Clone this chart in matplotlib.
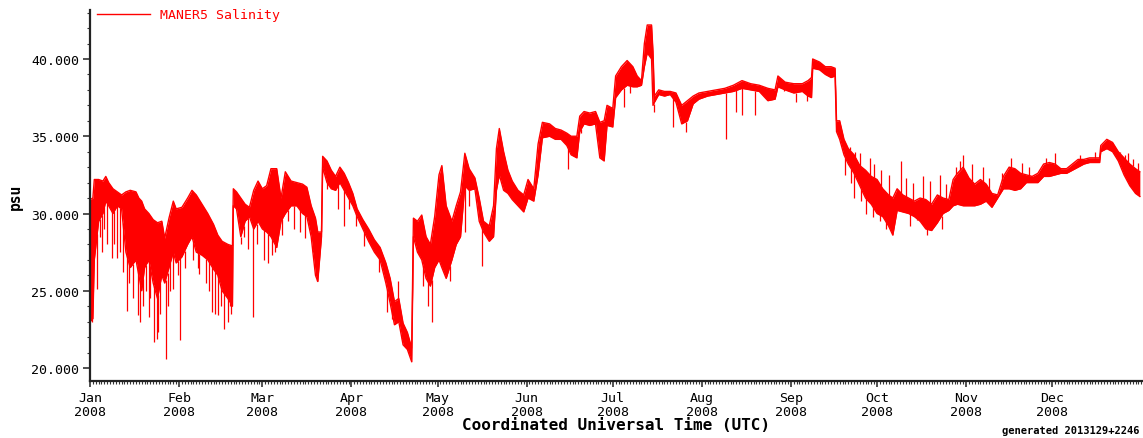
import numpy as np
import pandas as pd
import matplotlib
matplotlib.use("Agg")
import matplotlib.pyplot as plt

# MANER5 salinity (psu), 2008, day-of-year offsets from Jan 1.
# Band = upper/lower envelope of the tidal swing, plus single short excursions.
days = [0, 1, 1.5, 3, 4.5, 5.5, 6.5, 8, 9.5, 11, 12.5, 14, 16, 17, 18, 19, 20.5, 22, 23.5, 25,
        26, 27.5, 29, 30, 32, 34, 35.5, 37, 39, 41, 43, 44.5, 46, 48, 49.6, 49.9, 51, 52.5, 54, 55.5,
        57, 58.5, 60, 61.5, 63, 65, 66.5, 68, 70, 72, 74, 75.5, 77, 78.5, 79.3, 80.6, 81, 82.5, 84, 85.5,
        87, 88.5, 90, 91.5, 93, 95, 97, 99, 101, 103, 104.5, 106, 107.5, 109, 110.5, 112, 112.6, 114, 115.5, 117,
        118.5, 120, 121.5, 122.5, 124, 126, 127.5, 129, 130.5, 132, 134, 135.5, 137, 139, 140.5, 141.5, 142.5, 144, 145.5, 147,
        149, 151, 152.5, 154.5, 156, 157.5, 160, 162, 164, 166, 167.5, 169.5, 170.5, 172, 174, 176, 177.5, 179, 180, 182,
        183, 185, 187, 189, 190.5, 192, 193, 194, 195.5, 196, 196.5, 198, 200, 202, 204, 206, 208, 210, 212, 215,
        218, 221, 224, 227, 230, 233, 236, 238.5, 239.5, 242, 245, 248, 250, 251.2, 251.6, 254, 256, 258, 259.4, 259.9,
        261, 262.5, 264, 266, 268, 270, 272, 274, 276, 278, 279.5, 281, 283, 285, 287, 289, 291, 293, 295, 297,
        299, 300.5, 302, 304, 306, 308, 310, 312, 314, 316, 318, 320, 322, 324, 326, 328, 330, 332, 334, 336,
        338, 340, 342, 344, 346, 348, 351.5, 351.9, 354, 356, 358, 360, 362, 364, 365.5]
upper = [30.9, 31.0, 32.2, 32.2, 32.1, 32.4, 32.0, 31.6, 31.4, 31.2, 31.4, 31.5, 31.4, 31.0, 30.8, 30.3, 30.0, 29.6, 29.4, 29.5,
         28.4, 29.7, 30.8, 30.3, 30.4, 31.0, 31.5, 31.2, 30.6, 30.0, 29.3, 28.6, 28.2, 28.0, 27.9, 31.6, 31.4, 31.0, 30.6, 30.4,
         31.5, 32.1, 31.6, 31.8, 32.9, 32.9, 31.0, 32.7, 32.1, 32.0, 31.9, 31.7, 30.5, 29.7, 28.8, 28.8, 33.7, 33.4, 32.8, 32.4,
         33.0, 32.6, 32.0, 31.3, 30.3, 29.6, 29.0, 28.3, 27.8, 26.8, 25.8, 24.3, 24.5, 22.9, 22.3, 21.3, 29.7, 29.5, 29.9, 28.5,
         28.0, 29.8, 32.5, 33.1, 30.5, 29.5, 30.5, 31.4, 33.9, 32.9, 32.3, 31.0, 29.5, 29.2, 30.5, 34.2, 35.5, 34.0, 32.8, 32.1,
         31.5, 31.2, 32.2, 31.6, 34.5, 35.9, 35.8, 35.5, 35.4, 35.2, 35.0, 35.0, 36.3, 36.6, 36.5, 36.6, 35.9, 36.0, 37.0, 36.8,
         38.9, 39.5, 39.9, 39.5, 38.9, 38.6, 41.0, 42.2, 42.2, 40.5, 37.6, 38.0, 37.9, 37.9, 37.8, 37.0, 37.3, 37.6, 37.8, 37.9,
         38.0, 38.1, 38.3, 38.6, 38.4, 38.3, 38.1, 38.0, 38.9, 38.5, 38.4, 38.4, 38.6, 38.8, 40.0, 39.8, 39.5, 39.5, 39.4, 36.0,
         36.0, 34.8, 34.2, 33.8, 33.1, 32.8, 32.4, 32.2, 31.6, 31.2, 31.0, 31.6, 31.2, 31.0, 30.8, 31.0, 30.9, 30.6, 31.2, 31.0,
         30.9, 32.2, 32.6, 33.0, 32.3, 31.9, 32.2, 31.9, 31.3, 31.2, 32.4, 33.0, 32.9, 32.6, 32.5, 32.4, 32.6, 33.2, 33.3, 33.2,
         32.9, 32.9, 33.2, 33.5, 33.5, 33.6, 33.6, 34.4, 34.8, 34.6, 34.0, 33.6, 33.2, 32.9, 32.7]
lower = [23.0, 23.2, 27.0, 29.5, 30.0, 30.8, 30.5, 30.0, 30.5, 30.3, 27.5, 26.5, 27.0, 26.0, 25.0, 26.5, 27.0, 25.5, 24.5, 26.0,
         25.5, 26.5, 27.5, 26.8, 27.2, 28.0, 28.5, 27.5, 27.3, 27.0, 26.4, 26.0, 25.0, 24.5, 24.0, 30.5, 30.3, 28.5, 29.5, 29.8,
         29.0, 29.5, 29.0, 28.8, 28.5, 27.8, 29.5, 30.0, 30.5, 30.5, 30.0, 29.8, 28.5, 26.0, 25.6, 28.5, 33.0, 32.0, 31.6, 31.5,
         32.0, 31.5, 31.0, 30.5, 29.8, 29.0, 28.2, 27.5, 27.0, 25.5, 24.2, 22.8, 23.0, 21.5, 21.2, 20.4, 28.5, 27.5, 27.0, 25.8,
         25.3, 26.5, 27.0, 26.5, 25.8, 27.0, 28.0, 28.5, 31.8, 31.5, 31.6, 29.5, 28.8, 28.2, 28.5, 31.5, 32.5, 31.5, 31.3, 30.9,
         30.5, 30.1, 31.0, 30.8, 32.5, 34.9, 35.0, 34.8, 34.8, 34.4, 33.8, 33.6, 35.3, 35.8, 35.7, 35.8, 33.6, 33.4, 35.7, 35.6,
         37.5, 38.0, 38.3, 38.2, 38.2, 38.3, 39.5, 40.4, 40.0, 37.0, 37.2, 37.7, 37.6, 37.7, 37.2, 35.8, 36.0, 37.1, 37.4, 37.6,
         37.7, 37.8, 37.9, 38.1, 38.0, 37.9, 37.3, 37.4, 38.2, 38.0, 37.8, 37.9, 37.6, 37.5, 39.4, 39.3, 39.0, 38.8, 38.9, 35.3,
         34.8, 33.8, 33.2, 32.6, 31.8, 31.0, 30.6, 30.0, 29.8, 29.2, 28.6, 30.2, 30.1, 30.0, 29.8, 29.5, 29.0, 28.9, 29.4, 30.0,
         30.2, 30.5, 30.6, 30.5, 30.5, 30.5, 30.6, 30.8, 30.4, 31.0, 31.6, 31.6, 31.5, 31.6, 32.0, 32.0, 32.0, 32.4, 32.4, 32.5,
         32.6, 32.6, 32.8, 33.0, 33.2, 33.3, 33.3, 34.0, 34.2, 34.0, 33.4, 32.5, 31.8, 31.3, 31.1]

# short drops below the band
dip_days = [0.8, 2.5, 3.5, 4.3, 5.0, 6.0, 7.5, 8.5, 9.5, 10.5, 11.5, 12.8, 13.5, 15.0, 16.6, 17.3, 18.5, 19.5,
            20.4, 21.0, 22.3, 23.2, 23.7, 24.5, 26.3, 27.0, 28.0, 29.0, 30.5, 31.5, 33.0, 36.0, 37.5, 38.0, 40.5, 41.5,
            42.5, 43.4, 44.5, 45.5, 46.7, 48.0, 48.7, 49.0, 52.5, 53.5, 55.0, 56.7, 58.0, 60.5, 62.0, 63.3, 64.5, 67.0,
            69.0, 71.0, 73.0, 74.8, 77.5, 79.0, 82.5, 86.5, 88.3, 90.0, 92.5, 95.5, 100.5, 103.5, 105.0, 107.0, 108.5, 116.0,
            117.7, 119.0, 125.3, 130.6, 132.0, 136.5, 166.5, 171.0, 186.0, 188.0, 196.2, 202.9, 207.5, 221.5, 225.0, 227.0,
            231.5, 241.6, 245.8, 249.5, 263.0, 265.0, 266.0, 268.5, 270.0, 272.5, 275.0, 277.0, 285.5, 288.0, 291.5, 296.5]
dip_vals = [23.0, 25.1, 28.5, 27.5, 29.0, 28.0, 27.1, 28.0, 27.1, 27.5, 26.2, 23.7, 25.5, 24.5, 23.4, 23.0, 24.0, 25.0,
            23.3, 24.5, 21.7, 21.9, 22.3, 23.5, 20.6, 24.0, 25.0, 25.1, 26.0, 21.8, 26.5, 27.0, 26.5, 26.1, 25.5, 25.0,
            23.6, 23.5, 23.4, 24.0, 22.5, 23.0, 24.0, 23.5, 28.0, 28.5, 27.7, 23.3, 28.0, 27.0, 26.8, 27.3, 27.5, 28.6,
            29.5, 29.0, 28.8, 28.4, 27.5, 25.6, 31.6, 30.3, 29.2, 30.3, 29.2, 27.9, 26.2, 23.6, 23.2, 22.9, 21.9, 25.3,
            24.0, 23.0, 25.6, 28.8, 30.5, 26.6, 32.9, 35.2, 36.9, 37.8, 36.6, 35.6, 35.3, 34.8, 36.6, 36.4,
            36.4, 37.9, 37.2, 37.3, 32.5, 32.0, 31.0, 30.8, 30.0, 29.8, 29.5, 29.0, 29.2, 29.6, 28.6, 29.0]

# short rises above the band
peak_days = [107.4, 264.5, 266.5, 268.0, 271.5, 273.0, 275.5, 278.0, 282.5, 284.0, 286.5, 290.0, 292.5, 296.0,
             298.0, 301.5, 303.0, 304.0, 307.0, 311.0, 313.0, 317.5, 320.5, 324.5, 327.0, 333.0, 336.0, 344.5,
             350.0, 358.5, 360.5, 361.5, 363.0, 365.0]
peak_vals = [25.6, 34.3, 34.0, 33.9, 33.6, 33.2, 32.8, 32.5, 33.4, 32.3, 32.0, 32.4, 32.1, 32.5,
             31.9, 33.0, 33.4, 33.8, 33.2, 33.0, 32.3, 32.6, 33.6, 33.3, 33.0, 33.6, 33.9, 33.8,
             34.0, 34.0, 33.8, 33.9, 33.5, 33.3]

month_starts = pd.date_range("2008-01-01", "2008-12-01", freq="MS")
month_days = [(d - pd.Timestamp("2008-01-01")).days for d in month_starts]
month_labels = [d.strftime("%b\n%Y") for d in month_starts]

mono = "DejaVu Sans Mono"
red = "#ff0000"

fig = plt.figure(figsize=(11.43, 4.39), dpi=100)
ax = fig.add_axes([90 / 1143, 57 / 439, 1053 / 1143, 371 / 439])

ax.fill_between(days, lower, upper, color=red, lw=0)
ax.plot(days, upper, color=red, lw=1.0, label="MANER5 Salinity")
ax.plot(days, lower, color=red, lw=1.0)
ax.vlines(dip_days, dip_vals, np.interp(dip_days, days, lower), color=red, lw=0.9)
ax.vlines(peak_days, np.interp(peak_days, days, upper), peak_vals, color=red, lw=0.9)

ax.set_xlim(0, 366.6)
ax.set_ylim(19.16, 43.17)

ax.set_xticks(month_days)
ax.set_xticklabels(month_labels, fontfamily=mono, fontsize=9.5, linespacing=1.15)
ax.set_xticks(np.arange(0, 367, 1), minor=True)
ax.set_yticks([20, 25, 30, 35, 40])
ax.set_yticklabels(["%.3f" % v for v in [20, 25, 30, 35, 40]], fontfamily=mono, fontsize=9.5)
ax.set_yticks(np.arange(20, 44, 1), minor=True)

ax.tick_params(axis="both", which="major", direction="out", length=4, width=1.2, color="#333333", pad=3)
ax.tick_params(axis="both", which="minor", direction="out", length=2, width=0.8, color="#333333")
ax.tick_params(axis="y", which="major", length=5)

for side in ("top", "right"):
    ax.spines[side].set_visible(False)
for side in ("left", "bottom"):
    ax.spines[side].set_linewidth(1.6)
    ax.spines[side].set_color("#222222")

ax.set_xlabel("Coordinated Universal Time (UTC)", fontfamily=mono, fontweight="bold", fontsize=11.5, labelpad=-1)
ax.set_ylabel("psu", fontfamily=mono, fontweight="bold", fontsize=10.5, labelpad=6)

leg = ax.legend(loc="upper left", bbox_to_anchor=(0.0066, 1.005), frameon=False, borderpad=0,
                borderaxespad=0, handlelength=4.0, handletextpad=0.75,
                prop={"family": mono, "size": 9.5})
for t in leg.get_texts():
    t.set_color(red)

fig.text(0.997, 0.006, "generated 2013129+2246", ha="right", va="bottom",
         fontfamily=mono, fontweight="bold", fontsize=7.5)

fig.savefig("out.png", dpi=100)
